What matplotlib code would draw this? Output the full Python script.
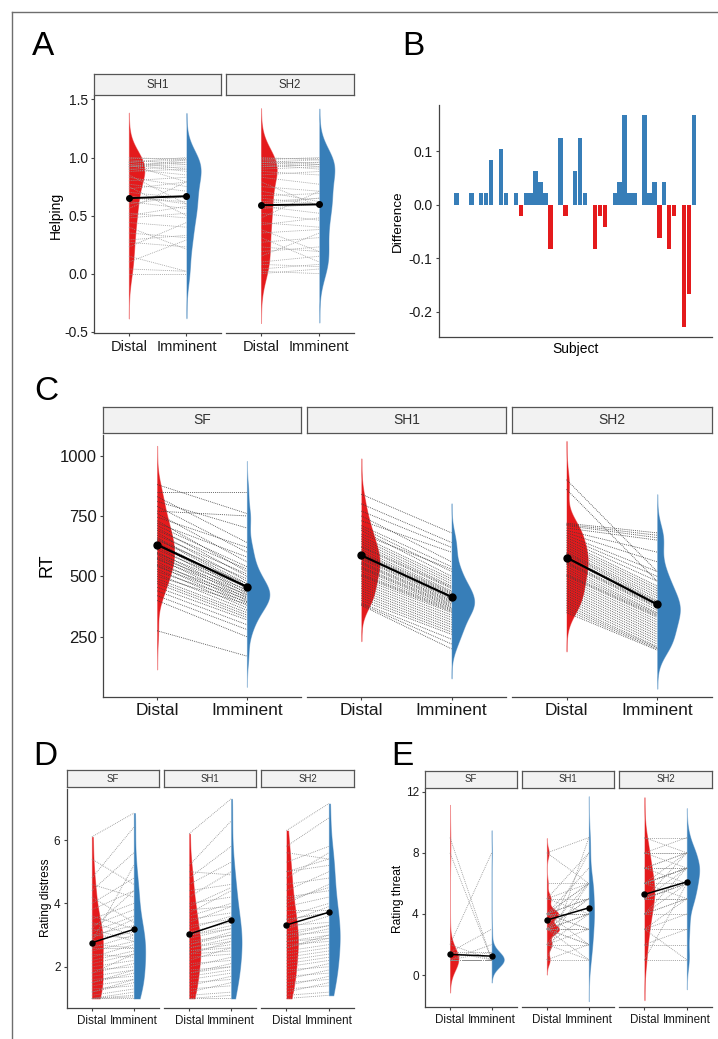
import numpy as np
import matplotlib
matplotlib.use('Agg')
import matplotlib.pyplot as plt
from matplotlib.lines import Line2D

plt.rcParams['font.family'] = ['Liberation Sans', 'DejaVu Sans']

W, H = 718, 1039
RED = '#E41A1C'
BLUE = '#377EB8'

conditions = ['Distal', 'Imminent']

# ---------------- A: helping (proportion) ----------------
a_facets = ['SH1', 'SH2']
a_sh1_distal = [1.0, 1.0, 0.98, 0.96, 0.96, 0.94, 0.94, 0.92, 0.92, 0.9, 0.9, 0.88, 0.85, 0.83, 0.8, 0.77, 0.75, 0.73, 0.7, 0.67,
                0.65, 0.62, 0.6, 0.56, 0.52, 0.5, 0.48, 0.44, 0.4, 0.35, 0.96, 0.94, 0.29, 0.23, 0.15, 0.1, 0.04, 0.0, 0.92, 0.27]
a_sh1_imminent = [0.98, 1.0, 0.94, 1.0, 0.9, 0.96, 0.79, 0.94, 0.98, 0.85, 0.92, 0.9, 0.6, 0.75, 0.83, 0.71, 0.5, 0.79, 0.65, 0.6,
                  0.62, 0.56, 0.67, 0.79, 0.48, 0.58, 0.52, 0.4, 0.21, 0.31, 0.98, 0.88, 0.33, 0.44, 0.02, 0.29, 0.02, 0.0, 0.96, 0.23]
a_sh2_distal = [1.0, 1.0, 0.98, 0.98, 0.96, 0.96, 0.94, 0.94, 0.92, 0.9, 0.88, 0.85, 0.83, 0.79, 0.75, 0.71, 0.67, 0.65, 0.6, 0.58,
                0.56, 0.52, 0.48, 0.44, 0.42, 0.38, 0.35, 0.31, 0.27, 0.23, 0.19, 0.15, 0.1, 0.08, 0.04, 0.02, 0.0, 0.96, 0.92, 0.62]
a_sh2_imminent = [0.98, 1.0, 1.0, 0.94, 0.96, 0.92, 0.96, 0.9, 0.94, 0.92, 0.85, 0.88, 0.77, 0.58, 0.71, 0.62, 0.69, 0.6, 0.65, 0.52,
                  0.6, 0.46, 0.71, 0.4, 0.48, 0.19, 0.38, 0.1, 0.31, 0.19, 0.23, 0.35, 0.15, 0.06, 0.08, 0.0, 0.04, 0.98, 0.94, 0.65]
a_means = [(0.65, 0.667), (0.59, 0.596)]

# ---------------- B: difference per subject (SH1) ----------------
b_diff = [0, 0, 0, 0.021, 0, 0, 0.021, 0, 0.021, 0.021, 0.083, 0, 0.104, 0.021, 0, 0.021, -0.021, 0.021, 0.021, 0.0625,
          0.042, 0.021, -0.083, 0, 0.125, -0.021, 0, 0.0625, 0.125, 0.021, 0, -0.083, -0.021, -0.042, 0, 0.021, 0.042, 0.167,
          0.021, 0.021, 0, 0.167, 0.021, 0.042, -0.0625, 0.042, -0.083, -0.021, 0, -0.229, -0.167, 0.167, 0, 0, 0]

# ---------------- C: RT ----------------
c_facets = ['SF', 'SH1', 'SH2']
c_sf_distal = [880, 850, 830, 810, 790, 770, 760, 745, 730, 720, 710, 700, 690, 680, 670, 660, 655, 650, 640, 630, 625, 620,
               610, 600, 595, 590, 580, 575, 570, 560, 550, 545, 540, 530, 520, 510, 500, 490, 480, 470, 455, 440, 420, 400, 275]
c_sf_imminent = [760, 850, 640, 700, 600, 750, 560, 620, 520, 580, 540, 500, 530, 480, 510, 470, 460, 490, 450, 440, 470, 430,
                 455, 420, 445, 410, 435, 400, 425, 390, 415, 380, 405, 370, 395, 360, 385, 350, 340, 330, 320, 300, 280, 250, 170]
c_sh1_distal = [840, 800, 770, 750, 730, 710, 700, 690, 675, 665, 655, 645, 635, 625, 620, 610, 600, 595, 590, 580, 575, 570,
                560, 555, 550, 540, 535, 530, 520, 510, 505, 500, 490, 480, 470, 460, 450, 440, 430, 420, 410, 400, 390, 385, 380]
c_sh1_imminent = [680, 640, 620, 560, 600, 540, 520, 500, 530, 490, 480, 470, 460, 455, 450, 440, 435, 430, 425, 420, 410, 405,
                  400, 395, 390, 385, 380, 375, 370, 365, 360, 355, 350, 340, 330, 320, 310, 300, 290, 280, 270, 260, 240, 220, 200]
c_sh2_distal = [900, 860, 720, 715, 710, 700, 690, 680, 670, 660, 650, 640, 630, 620, 610, 600, 595, 590, 580, 575, 570, 560,
                555, 550, 540, 530, 520, 510, 505, 500, 490, 480, 470, 460, 450, 440, 430, 420, 410, 400, 390, 380, 370, 360, 350]
c_sh2_imminent = [520, 480, 680, 670, 660, 650, 600, 560, 520, 500, 480, 460, 450, 440, 430, 420, 410, 400, 395, 390, 385, 380,
                  375, 370, 360, 350, 345, 340, 335, 330, 320, 310, 300, 290, 280, 270, 260, 250, 240, 230, 220, 210, 205, 200, 195]
c_means = [(631, 457), (587, 415), (578, 384)]

# ---------------- D: distress rating ----------------
d_sf_distal = [6.1, 5.4, 4.8, 4.6, 4.4, 4.2, 4.0, 3.8, 3.6, 3.5, 3.4, 3.3, 3.2, 3.1, 3.0, 3.0, 2.9, 2.8, 2.7, 2.6, 2.5, 2.4, 2.3,
               2.2, 2.1, 2.0, 1.9, 1.8, 1.7, 1.6, 1.5, 1.4, 1.3, 1.2, 1.1, 1.0, 1.0, 1.0, 1.0, 2.8, 3.2, 2.6, 1.8, 1.5, 1.2]
d_sf_imminent = [6.85, 4.6, 6.4, 4.2, 5.6, 3.4, 4.8, 4.4, 3.2, 4.0, 3.0, 3.8, 2.8, 3.6, 3.3, 2.9, 3.5, 3.1, 2.6, 3.0, 2.8, 2.3,
                 2.7, 2.5, 2.4, 2.2, 2.0, 2.1, 1.9, 1.7, 1.8, 1.6, 1.4, 1.5, 1.3, 1.1, 1.05, 1.2, 1.0, 5.2, 4.4, 2.6, 2.4, 1.9, 1.6]
d_sh1_distal = [6.2, 5.2, 5.0, 4.8, 4.6, 4.4, 4.2, 4.0, 3.9, 3.8, 3.6, 3.5, 3.4, 3.3, 3.2, 3.1, 3.0, 2.9, 2.8, 2.7, 2.6, 2.6, 2.5,
                2.5, 2.4, 2.3, 2.2, 2.1, 2.0, 1.9, 1.8, 1.7, 1.6, 1.5, 1.4, 1.3, 1.2, 1.1, 1.0, 1.0, 3.0, 2.7, 3.7, 2.4, 1.8]
d_sh1_imminent = [7.3, 6.6, 4.9, 5.8, 5.3, 4.6, 5.0, 4.2, 4.5, 3.9, 4.0, 3.7, 3.9, 3.5, 3.6, 3.4, 3.3, 3.2, 3.0, 3.1, 2.8, 2.9,
                  2.7, 2.6, 2.5, 2.4, 2.6, 2.2, 2.3, 2.0, 2.1, 1.9, 1.8, 1.6, 1.7, 1.4, 1.5, 1.2, 1.1, 1.0, 3.2, 3.0, 4.4, 2.8, 2.0]
d_sh2_distal = [6.3, 5.8, 5.6, 5.3, 5.0, 4.8, 4.6, 4.4, 4.2, 4.0, 3.9, 3.8, 3.6, 3.5, 3.4, 3.3, 3.2, 3.1, 3.0, 2.9, 2.8, 2.8, 2.7,
                2.6, 2.5, 2.4, 2.3, 2.2, 2.1, 2.0, 1.9, 1.8, 1.7, 1.6, 1.5, 1.4, 1.3, 1.2, 1.1, 1.0, 3.5, 3.0, 4.1, 2.6, 5.0]
d_sh2_imminent = [7.15, 6.7, 5.4, 5.8, 5.2, 5.6, 4.8, 5.0, 4.4, 4.6, 4.2, 3.8, 4.0, 3.7, 3.9, 3.4, 3.6, 3.3, 3.1, 3.2, 3.0, 2.9,
                  2.8, 3.0, 2.7, 2.6, 2.5, 2.4, 2.3, 2.2, 2.0, 2.1, 1.8, 1.9, 1.6, 1.7, 1.4, 1.5, 1.2, 1.1, 3.7, 3.3, 4.5, 2.9, 5.4]
d_means = [(2.76, 3.18), (3.03, 3.47), (3.32, 3.72)]

# ---------------- E: threat rating ----------------
e_sf_distal = [9, 8, 2, 1.5, 2, 1.5, 1, 1.5, 1, 1, 1, 1, 1, 1, 1, 1, 1, 1, 1, 1,
               1, 1, 1, 1, 1, 1, 1, 1, 1, 1, 1, 1, 1, 1, 1, 1, 1, 1, 1, 1]
e_sf_imminent = [1, 1, 8, 3, 1, 1, 1, 1.5, 1, 1, 1, 1, 1, 1, 1, 1, 1, 1, 1, 1,
                 1, 1, 1, 1, 1, 1, 1, 1, 1, 1, 1, 1, 1, 1, 1.5, 1, 1, 2, 1, 1]
e_sh1_distal = [8, 8, 5, 5, 5, 5, 4, 4, 4, 4, 4, 4, 4, 4, 4, 4, 4, 4, 3, 3,
                3, 3, 3, 3, 3, 3, 3, 3, 3, 3, 3, 2, 2, 2, 2, 2, 1, 1, 1, 6]
e_sh1_imminent = [9, 6, 8, 5, 6, 4, 4, 5, 6, 3, 4, 5, 6, 2, 4, 7, 3, 5, 3, 4,
                  5, 2, 3, 6, 4, 1, 3, 4, 5, 2, 8, 2, 3, 1, 4, 6, 1, 2, 9, 6]
e_sh2_distal = [9, 9, 8, 8, 8, 7, 7, 7, 6, 6, 6, 6, 6, 5, 5, 5, 5, 5, 5, 4,
                4, 4, 4, 3, 3, 3, 2, 2, 1, 1, 7, 6, 5, 4, 8, 6, 5, 7, 3, 6]
e_sh2_imminent = [9, 8, 9, 8, 7, 8, 7, 6, 7, 6, 8, 7, 5, 6, 7, 5, 6, 8, 5, 6,
                  4, 5, 7, 3, 5, 4, 2, 3, 1, 6, 7, 7, 6, 5, 8, 7, 6, 8, 1, 7]
e_means = [(1.35, 1.24), (3.6, 4.4), (5.28, 6.1)]


fig = plt.figure(figsize=(W / 100, H / 100), dpi=100)


def add_ax(x0, x1, y0, y1):
    # pixel box (from top-left) -> figure axes
    return fig.add_axes([x0 / W, 1 - y1 / H, (x1 - x0) / W, (y1 - y0) / H])


def kde(v, trim):
    v = np.asarray(v, float)
    n = len(v)
    sd = v.std(ddof=1)
    q75, q25 = np.percentile(v, [75, 25])
    lo = min(sd, (q75 - q25) / 1.34)
    if lo == 0:
        lo = sd
    bw = 0.9 * lo * n ** -0.2
    if trim:
        grid = np.linspace(v.min(), v.max(), 512)
    else:
        grid = np.linspace(v.min() - 3 * bw, v.max() + 3 * bw, 512)
    d = np.exp(-0.5 * ((grid[:, None] - v[None, :]) / bw) ** 2).sum(1) / (n * bw * np.sqrt(2 * np.pi))
    return grid, d


def strip(x0, x1, y0, y1, text, fs):
    s = add_ax(x0, x1, y0, y1)
    s.set_facecolor('#F2F2F2')
    s.set_xticks([])
    s.set_yticks([])
    for sp in s.spines.values():
        sp.set_color('#555555')
        sp.set_linewidth(0.9)
    s.text(0.5, 0.5, text, ha='center', va='center', fontsize=fs, color='#333333', transform=s.transAxes)


def violin_panel(xboxes, strip_y, plot_y, titles, distal, imminent, means, ylim, yticks, ytl,
                 tick_fs, xlab_fs, strip_fs, msize, mlw, lcolor, trim, vwidth=0.27):
    axes = []
    for i, (x0, x1) in enumerate(xboxes):
        ax = add_ax(x0, x1, plot_y[0], plot_y[1])
        strip(x0, x1, strip_y[0], strip_y[1], titles[i], strip_fs)
        g1, d1 = kde(distal[i], trim)
        g2, d2 = kde(imminent[i], trim)
        scale = max(d1.max(), d2.max())
        ax.fill_betweenx(g1, 1, 1 + vwidth * d1 / scale, facecolor=RED, edgecolor=(0.89, 0.1, 0.11, 0.45), lw=0.7, zorder=1)
        ax.fill_betweenx(g2, 2, 2 + vwidth * d2 / scale, facecolor=BLUE, edgecolor=(0.22, 0.49, 0.72, 0.45), lw=0.7, zorder=1)
        for a, b in zip(distal[i], imminent[i]):
            ax.plot([1, 2], [a, b], color=lcolor, lw=0.6, ls=(0, (1, 1.3)), zorder=2)
        ax.plot([1, 2], means[i], color='black', lw=mlw, marker='o', ms=msize, zorder=3)
        ax.set_xlim(0.4, 2.6)
        ax.set_ylim(*ylim)
        ax.set_xticks([1, 2])
        ax.set_xticklabels(conditions, fontsize=xlab_fs, color='#1a1a1a')
        for sp in ['top', 'right']:
            ax.spines[sp].set_visible(False)
        ax.spines['bottom'].set_color('#444444')
        ax.spines['bottom'].set_linewidth(0.9)
        ax.tick_params(axis='x', length=2.5, width=0.8, color='#444444', pad=2)
        if i == 0:
            ax.spines['left'].set_color('#444444')
            ax.spines['left'].set_linewidth(0.9)
            ax.set_yticks(yticks)
            ax.set_yticklabels(ytl, fontsize=tick_fs, color='#1a1a1a')
            ax.tick_params(axis='y', length=2.5, width=0.8, color='#444444', pad=2)
        else:
            ax.spines['left'].set_visible(False)
            ax.set_yticks([])
        axes.append(ax)
    return axes


# Panel A
violin_panel([(94.3, 221), (226, 354.3)], (74, 95.5), (96, 333.3), a_facets,
             [a_sh1_distal, a_sh2_distal], [a_sh1_imminent, a_sh2_imminent], a_means,
             (-0.514, 1.53), [-0.5, 0, 0.5, 1.0, 1.5], ['-0.5', '0.0', '0.5', '1.0', '1.5'],
             10, 10.5, 8.3, 4, 1.4, '#9a9a9a', False)

# Panel B
axb = add_ax(438.7, 711.7, 105, 337.3)
subj = np.arange(1, len(b_diff) + 1)
b_cols = [BLUE if v >= 0 else RED for v in b_diff]
axb.bar(subj, b_diff, width=0.9, color=b_cols)
axb.set_xlim(0.4, len(b_diff) + 0.6)
axb.set_ylim(-0.248, 0.186)
axb.set_yticks([-0.2, -0.1, 0.0, 0.1])
axb.set_yticklabels(['-0.2', '-0.1', '0.0', '0.1'], fontsize=10, color='#1a1a1a')
axb.set_xticks([])
for sp in ['top', 'right']:
    axb.spines[sp].set_visible(False)
for sp in ['left', 'bottom']:
    axb.spines[sp].set_color('#444444')
    axb.spines[sp].set_linewidth(0.9)
axb.tick_params(axis='y', length=2.5, width=0.8, color='#444444', pad=2)

# Panel C
violin_panel([(103.2, 300.8), (307.2, 505.7), (512.1, 711.6)], (406.7, 433.3), (435, 696.7), c_facets,
             [c_sf_distal, c_sh1_distal, c_sh2_distal], [c_sf_imminent, c_sh1_imminent, c_sh2_imminent], c_means,
             (2, 1085), [250, 500, 750, 1000], ['250', '500', '750', '1000'],
             12, 12.5, 10, 5, 1.6, '#3a3a3a', False, vwidth=0.25)

# Panel D
violin_panel([(66.7, 159), (164, 256.3), (261, 354.3)], (770, 787.3), (789, 1008.3), c_facets,
             [d_sf_distal, d_sh1_distal, d_sh2_distal], [d_sf_imminent, d_sh1_imminent, d_sh2_imminent], d_means,
             (0.69, 7.61), [2, 4, 6], ['2', '4', '6'],
             8.5, 8.4, 6.9, 3.6, 1.1, '#8c8c8c', True)

# Panel E
violin_panel([(425, 516.7), (521.7, 614), (619, 712.3)], (770.7, 788.3), (789, 1007.3), c_facets,
             [e_sf_distal, e_sh1_distal, e_sh2_distal], [e_sf_imminent, e_sh1_imminent, e_sh2_imminent], e_means,
             (-2.11, 12.18), [0, 4, 8, 12], ['0', '4', '8', '12'],
             8.5, 8.4, 6.9, 3.6, 1.1, '#8c8c8c', False, vwidth=0.29)

# axis titles
fig.text(55.8 / W, 1 - 215.8 / H, 'Helping', rotation=90, ha='center', va='center', fontsize=10)
fig.text(397.5 / W, 1 - 220.8 / H, 'Difference', rotation=90, ha='center', va='center', fontsize=9.7)
fig.text(575.7 / W, 1 - 349 / H, 'Subject', ha='center', va='center', fontsize=10)
fig.text(47 / W, 1 - 565 / H, 'RT', rotation=90, ha='center', va='center', fontsize=13)
fig.text(46 / W, 1 - 897.5 / H, 'Rating distress', rotation=90, ha='center', va='center', fontsize=8.6)
fig.text(397.5 / W, 1 - 899 / H, 'Rating threat', rotation=90, ha='center', va='center', fontsize=8.6)

# panel letters
for lab, x, y in [('A', 32, 55), ('B', 402.3, 55), ('C', 34.4, 400), ('D', 33.3, 765), ('E', 391.7, 765)]:
    fig.text(x / W, 1 - y / H, lab, ha='left', va='baseline', fontsize=24)

# outer frame
fig.add_artist(Line2D([12 / W, 1], [1 - 12 / H, 1 - 12 / H], color='#6e6e6e', lw=1))
fig.add_artist(Line2D([12 / W, 12 / W], [0, 1 - 12 / H], color='#6e6e6e', lw=1))

fig.savefig('out.png', dpi=100)
